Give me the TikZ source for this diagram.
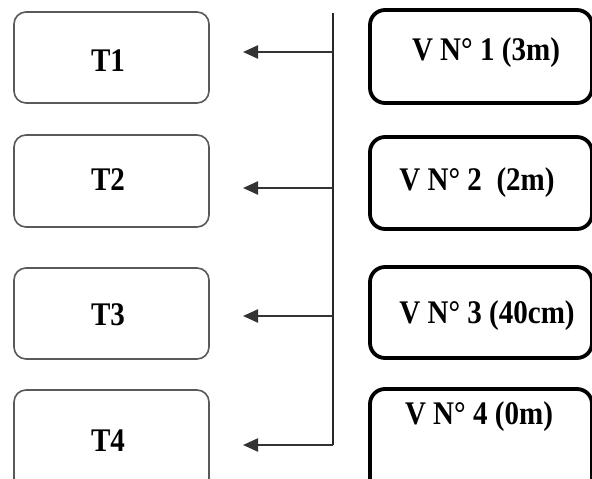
\documentclass[tikz,border=0pt]{standalone}
\usepackage{fontspec}
\setmainfont[FakeStretch=0.88]{Liberation Serif}
\usetikzlibrary{arrows.meta}
\begin{document}
\begin{tikzpicture}[x=1pt,y=-1pt,
  tbox/.style={draw=black!65,line width=1.6pt,rounded corners=12pt,fill=white},
  vbox/.style={draw=black,line width=3.8pt,rounded corners=15pt,fill=white},
  lab/.style={font=\fontsize{33}{36}\selectfont\bfseries,inner sep=0pt},
  spine/.style={draw=black!85,line width=2.2pt},
  arr/.style={draw=black!80,line width=2.2pt,-{Triangle[length=15pt,width=13pt]}}]
\useasboundingbox (0,0) rectangle (592,479);
\clip (0,0) rectangle (592,479);
\fill[white] (0,0) rectangle (592,479);
% left boxes
\draw[tbox] (14,12) rectangle (209,103);
\draw[tbox] (14,135) rectangle (209,227);
\draw[tbox] (14,268) rectangle (209,359);
\draw[tbox] (14,390) rectangle (209,492);
\node[lab] (t1) at (108,61) {T1};
\node[lab] (t2) at (108,180) {T2};
\node[lab] (t3) at (108,315) {T3};
\node[lab] (t4) at (108,441) {T4};
% right boxes
\draw[vbox] (370,10) rectangle (592,103);
\draw[vbox] (370,137) rectangle (592,229);
\draw[vbox] (370,267) rectangle (592,358);
\draw[vbox] (370,389) rectangle (592,500);
\node[lab] (v1) at (486,53) {V N° 1 (3m)};
\node[lab] (v2) at (477,183) {V N° 2~~(2m)};
\node[lab] (v3) at (487,316) {V N° 3 (40cm)};
\node[lab] (v4) at (479,417) {V N° 4 (0m)};
% spine and arrows
\coordinate (top) at (333,13);
\coordinate (s1) at (333,52);
\coordinate (s2) at (333,188);
\coordinate (s3) at (333,316);
\coordinate (s4) at (333,445);
\coordinate (a1) at (243,52);
\coordinate (a2) at (243,188);
\coordinate (a3) at (243,316);
\coordinate (a4) at (243,445);
\draw[spine] (top) -- (s4);
\draw[arr] (s1) -- (a1);
\draw[arr] (s2) -- (a2);
\draw[arr] (s3) -- (a3);
\draw[arr] (s4) -- (a4);
\end{tikzpicture}
\end{document}
